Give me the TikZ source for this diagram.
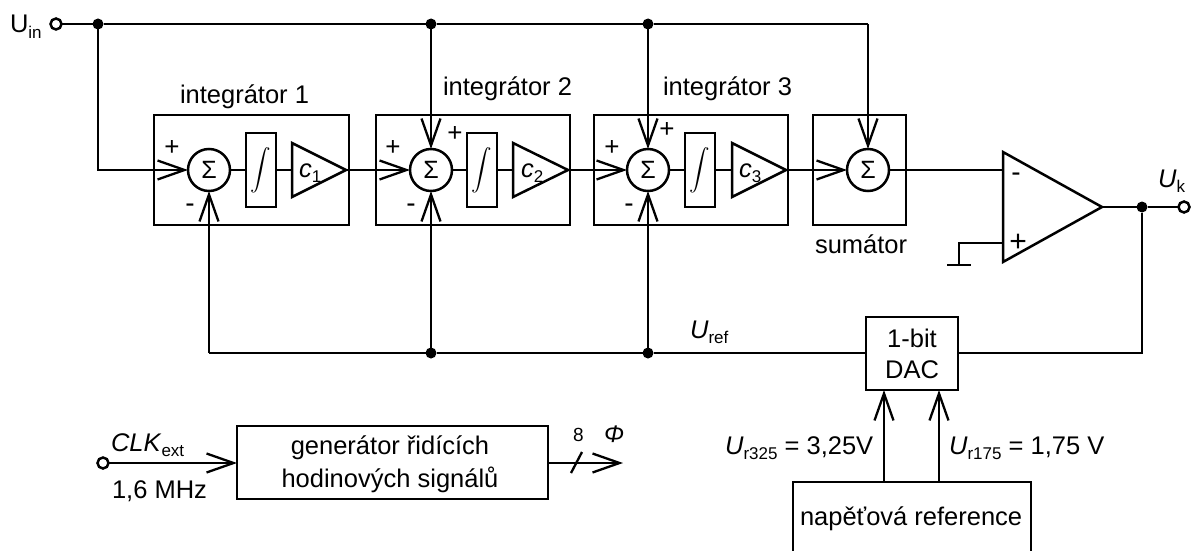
\documentclass[tikz,border=0pt]{standalone}
\usepackage{fontspec}
\usetikzlibrary{arrows.meta}
\setmainfont{Liberation Sans}
\newcommand{\dn}[1]{\raisebox{-0.22em}{\fontsize{17}{17}\selectfont #1}}
\tikzset{
  x=1pt,y=-1pt,
  every path/.style={line width=2.5pt,line join=miter},
  wire/.style={line width=2.5pt},
  arr/.style={wire,-{Straight Barb[length=27pt,width=19pt,line width=2.3pt]}},
  every node/.style={inner sep=0,outer sep=0,font=\fontsize{25.5}{31}\selectfont},
  lbl/.style={anchor=base west},
  blk/.style={draw,line width=2.5pt,anchor=north west},
  sum/.style={circle,draw,line width=2.5pt,minimum size=42pt,font=\fontsize{25}{25}\selectfont},
  intg/.style={draw,line width=2.5pt,minimum width=30pt,minimum height=74pt},
  intsym/.style={scale=2.05},
  dot/.style={circle,fill=black,minimum size=11pt},
  term/.style={circle,draw,fill=white,line width=2.5pt,minimum size=11pt},
  sgn/.style={font=\fontsize{26}{26}\selectfont},
  mns/.style={font=\fontsize{28}{28}\selectfont},
  gain/.style={font=\fontsize{25.5}{25.5}\selectfont},
}
\begin{document}
\begin{tikzpicture}
\useasboundingbox (0,0) rectangle (1193,551);
% blocks
\node[blk,minimum width=195pt,minimum height=110pt] (b1) at (154,115) {};
\node[blk,minimum width=194pt,minimum height=110pt] (b2) at (376,115) {};
\node[blk,minimum width=194pt,minimum height=110pt] (b3) at (594,115) {};
\node[blk,minimum width=93pt,minimum height=110pt] (b4) at (813,115) {};
% sums
\node[sum] (s1) at (209,170) {Σ};
\node[sum] (s2) at (431,170) {Σ};
\node[sum] (s3) at (648,170) {Σ};
\node[sum] (s4) at (868,170) {Σ};
% integrators
\node[intg] (i1) at (261,170) {};
\node[intg] (i2) at (482,170) {};
\node[intg] (i3) at (700,170) {};
\node[intsym] (q1) at (i1) {$\displaystyle\int$};
\node[intsym] (q2) at (i2) {$\displaystyle\int$};
\node[intsym] (q3) at (i3) {$\displaystyle\int$};
% gain triangles
\coordinate (t1w) at (292,170); \coordinate (t1e) at (346,170);
\coordinate (t2w) at (513,170); \coordinate (t2e) at (568,170);
\coordinate (t3w) at (732,170); \coordinate (t3e) at (786,170);
\draw (292,143) -- (t1e) -- (292,197) -- cycle;
\draw (513,143) -- (t2e) -- (513,197) -- cycle;
\draw (732,143) -- (t3e) -- (732,197) -- cycle;
\node[gain,lbl] (c1) at (299,177) {\textit{c}\dn{1}};
\node[gain,lbl] (c2) at (521,177) {\textit{c}\dn{2}};
\node[gain,lbl] (c3) at (739,177) {\textit{c}\dn{3}};
% op-amp
\coordinate (oim) at (1003,170); \coordinate (oip) at (1003,243); \coordinate (oo) at (1102,207);
\draw (1003,152) -- (oo) -- (1003,262) -- cycle;
\node[mns] (om) at (1016,177) {-};
\node[font=\fontsize{30}{30}\selectfont] (op) at (1018,243) {+};
% ground
\coordinate (g1) at (959,243); \coordinate (g2) at (959,265);
\coordinate (g3) at (947,265); \coordinate (g4) at (971,265);
\draw (oip) -- (g1) -- (g2);
\draw (g3) -- (g4);
% terminals and junctions
\node[term] (uin) at (56,24) {};
\node[dot] (j0) at (98,24) {};
\node[dot] (j1) at (431,24) {};
\node[dot] (j2) at (648,24) {};
\coordinate (tr) at (868,24);
\node[dot] (j3) at (431,353) {};
\node[dot] (j4) at (648,353) {};
\node[dot] (jo) at (1142,207) {};
\node[term] (uk) at (1184,207) {};
% DAC and reference
\node[blk,minimum width=92pt,minimum height=73pt,align=center] (dac) at (866,317) {};
\node (dact) at (912,354) [align=center,font=\fontsize{25.5}{31}\selectfont] {1-bit\\DAC};
\coordinate (rnw) at (793,482); \coordinate (rne) at (1031,482);
\draw (793,551) -- (rnw) -- (rne) -- (1031,551);
\coordinate (r1) at (884,482); \coordinate (r2) at (939,482);
\coordinate (d1) at (884,390); \coordinate (d2) at (939,390);
\coordinate (fb1) at (209,353);
\coordinate (oc) at (1142,353);
% generator
\node[blk,minimum width=311pt,minimum height=73pt] (gen) at (237,426) {};
\node (gent) at (390,464) [align=center,font=\fontsize{25.5}{33}\selectfont] {generátor řidících\\hodinových signálů};
\node[term] (clk) at (103,463) {};
\coordinate (phi) at (623,463);
% top connectors
\draw[wire] (uin) -- (j0) -- (j1) -- (j2) -- (tr);
\draw[arr] (j0) |- (s1.west);
\draw[arr] (j1) -- (s2.north);
\draw[arr] (j2) -- (s3.north);
\draw[arr] (tr) -- (s4.north);
% chain
\draw[wire] (s1) -- (i1); \draw[wire] (i1) -- (t1w);
\draw[wire] (s2) -- (i2); \draw[wire] (i2) -- (t2w);
\draw[wire] (s3) -- (i3); \draw[wire] (i3) -- (t3w);
\draw[arr] (t1e) -- (s2.west);
\draw[arr] (t2e) -- (s3.west);
\draw[arr] (t3e) -- (s4.west);
\draw[wire] (s4) -- (oim);
\draw[wire] (oo) -- (jo) -- (uk);
% feedback
\draw[wire] (jo) -- (oc) -- (dac.east |- oc);
\draw[wire] (dac.west |- oc) -- (j4) -- (j3) -- (fb1);
\draw[arr] (fb1) -- (s1.south);
\draw[arr] (j3) -- (s2.south);
\draw[arr] (j4) -- (s3.south);
\draw[arr] (r1) -- (d1);
\draw[arr] (r2) -- (d2);
% clock
\draw[arr] (clk) -- (clk -| gen.west);
\draw[arr] (gen.east |- phi) -- (phi);
\coordinate (sl1) at (571,473); \coordinate (sl2) at (582,452);
\draw[line width=2.3pt] (sl1) -- (sl2);
% labels
\node[lbl] (l1) at (10,33) {U\dn{in}};
\node[lbl] (l2) at (180,103) {integrátor 1};
\node[lbl] (l3) at (443,95) {integrátor 2};
\node[lbl] (l4) at (663,95) {integrátor 3};
\node[lbl] (l5) at (815,253) {sumátor};
\node[lbl] (l6) at (1158,187) {\textit{U}\dn{k}};
\node[lbl] (l7) at (690,338) {\textit{U}\dn{ref}};
\node[lbl] (l8) at (725,454) {\textit{U}\dn{r325} = 3,25V};
\node[lbl] (l9) at (949,454) {\textit{U}\dn{r175} = 1,75 V};
\node[lbl] (l10) at (800,525) {napěťová reference};
\node[lbl] (l11) at (111,451) {\textit{CLK}\dn{ext}};
\node[lbl] (l12) at (112,498) {1,6 MHz};
\node[lbl,font=\fontsize{19}{19}\selectfont] (l13) at (573,441) {8};
\node[lbl,font=\fontsize{24}{24}\selectfont\itshape] (l14) at (604,442) {Φ};
\node[sgn] (p1) at (172,148) {+};
\node[sgn] (p2) at (393,148) {+};
\node[sgn] (p3) at (455,134) {+};
\node[sgn] (p4) at (612,148) {+};
\node[sgn] (p5) at (667,130) {+};
\node[mns] (m1) at (190,208) {-};
\node[mns] (m2) at (411,208) {-};
\node[mns] (m3) at (629,208) {-};
\end{tikzpicture}
\end{document}
